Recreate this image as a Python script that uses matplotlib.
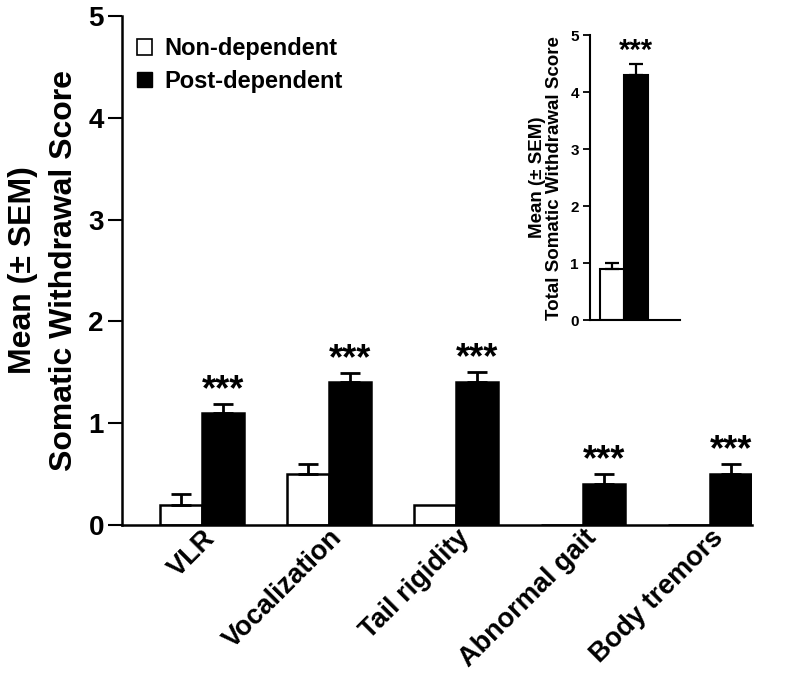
import numpy as np
import matplotlib
matplotlib.use('Agg')
import matplotlib.pyplot as plt
from matplotlib.patches import Patch

plt.rcParams['font.family'] = ['Liberation Sans', 'DejaVu Sans']
plt.rcParams['font.weight'] = 'bold'

categories = ['VLR', 'Vocalization', 'Tail rigidity', 'Abnormal gait', 'Body tremors']
non_dep = [0.2, 0.5, 0.2, 0.0, 0.0]
non_dep_err = [0.1, 0.1, 0.0, 0.0, 0.0]
post_dep = [1.1, 1.4, 1.4, 0.4, 0.5]
post_dep_err = [0.09, 0.09, 0.1, 0.1, 0.1]
sig = ['***', '***', '***', '***', '***']

total_groups = ['Non-dependent', 'Post-dependent']
total_mean = [0.9, 4.3]
total_err = [0.1, 0.2]
total_sig = '***'

w = 0.33
x = np.arange(len(categories))

fig = plt.figure(figsize=(7.94, 6.90), dpi=100)
ax = fig.add_axes([0.1537, 0.2391, 0.7933, 0.7377])

ax.bar(x - w/2, non_dep, w, color='white', edgecolor='black', linewidth=1.8,
       label='Non-dependent')
ax.bar(x + w/2, post_dep, w, color='black', edgecolor='black', linewidth=1.8,
       label='Post-dependent')
for i in range(len(x)):
    if non_dep_err[i] > 0:
        ax.errorbar(x[i] - w/2, non_dep[i], yerr=[[0], [non_dep_err[i]]], fmt='none',
                    ecolor='black', elinewidth=2, capsize=7, capthick=2)
    ax.errorbar(x[i] + w/2, post_dep[i], yerr=[[0], [post_dep_err[i]]], fmt='none',
                ecolor='black', elinewidth=2, capsize=7, capthick=2)
    ax.text(x[i] + w/2, post_dep[i] + post_dep_err[i] + 0.13, sig[i],
            ha='center', va='center', fontsize=26, fontweight='bold')

ax.set_xlim(-0.63, 4.33)
ax.set_ylim(0, 5)
ax.set_yticks([0, 1, 2, 3, 4, 5])
ax.tick_params(axis='y', direction='out', length=10, width=1.5, labelsize=20, pad=3)
ax.set_xticks(x)
ax.set_xticklabels(categories, rotation=45, ha='right', rotation_mode='anchor',
                   fontsize=19.5, fontweight='bold')
ax.tick_params(axis='x', length=0, pad=0)
for lab in ax.get_yticklabels():
    lab.set_fontweight('bold')
ax.spines['top'].set_visible(False)
ax.spines['right'].set_visible(False)
ax.spines['left'].set_linewidth(1.8)
ax.spines['bottom'].set_linewidth(1.8)
ax.set_ylabel('Mean (\u00b1 SEM)\nSomatic Withdrawal Score', fontsize=23,
              fontweight='bold', labelpad=7, linespacing=1.45)

handles = [Patch(facecolor='white', edgecolor='black', linewidth=1.2),
           Patch(facecolor='black', edgecolor='black')]
ax.legend(handles, ['Non-dependent', 'Post-dependent'], loc='upper left',
          bbox_to_anchor=(-0.01, 1.0), frameon=False,
          handlelength=0.65, handleheight=0.65, handletextpad=0.5, labelspacing=0.4,
          prop={'weight': 'bold', 'size': 17})

# inset
ins = fig.add_axes([0.743, 0.536, 0.113, 0.413])
xi = np.array([0, 1])
ins.bar(xi, total_mean, 1.0, color=['white', 'black'], edgecolor='black', linewidth=1.5)
ins.errorbar(xi, total_mean, yerr=[[0, 0], total_err], fmt='none', ecolor='black',
             elinewidth=1.6, capsize=5, capthick=1.6)
ins.text(1, total_mean[1] + total_err[1] + 0.22, total_sig, ha='center', va='center',
         fontsize=21, fontweight='bold')
ins.set_xlim(-0.9, 2.8)
ins.set_ylim(0, 5)
ins.set_yticks([0, 1, 2, 3, 4, 5])
ins.set_xticks([])
ins.tick_params(axis='y', direction='out', length=5, width=1.3, labelsize=11, pad=3)
for lab in ins.get_yticklabels():
    lab.set_fontweight('bold')
ins.spines['top'].set_visible(False)
ins.spines['right'].set_visible(False)
ins.spines['left'].set_linewidth(1.5)
ins.spines['bottom'].set_linewidth(1.5)
ins.set_ylabel('Mean (\u00b1 SEM)\nTotal Somatic Withdrawal Score', fontsize=13.5,
               fontweight='bold', labelpad=5, linespacing=1.05)

fig.savefig('out.png', dpi=100)
